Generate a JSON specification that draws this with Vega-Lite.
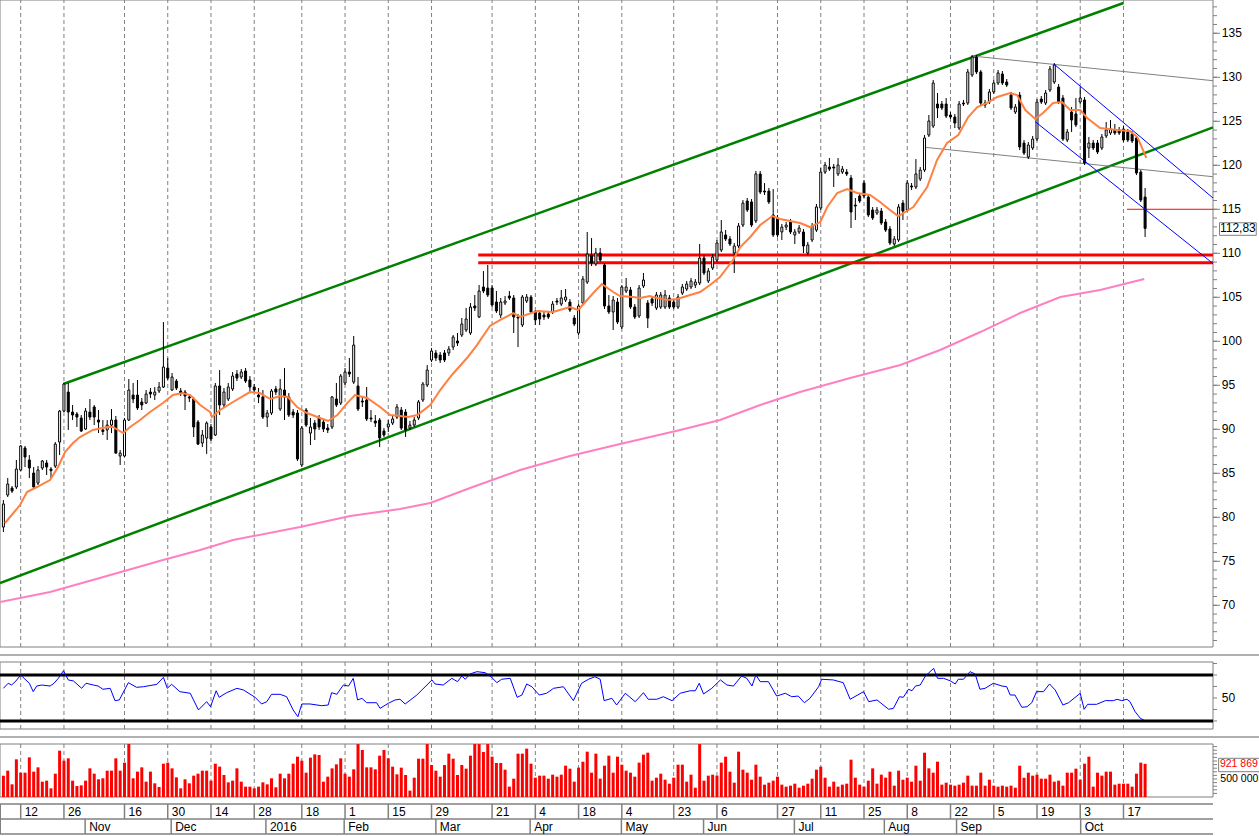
{
"$schema":"https://vega.github.io/schema/vega-lite/v6.json",
"width":1213,"height":836,
"padding":{"left":0,"top":0,"right":46,"bottom":0},
"autosize":{"type":"none"},
"background":"white",
"config":{"view":{"stroke":null},"font":"Liberation Sans","text":{"font":"Liberation Sans"},"scale":{"continuousPadding":0}},
"datasets":{
"grid":[{"i":4,"t":"12"},{"i":14,"t":"26"},{"i":28,"t":"16"},{"i":38,"t":"30"},{"i":48,"t":"14"},{"i":58,"t":"28"},{"i":69,"t":"18"},{"i":79,"t":"1"},{"i":89,"t":"15"},{"i":99,"t":"29"},{"i":113,"t":"21"},{"i":123,"t":"4"},{"i":133,"t":"18"},{"i":143,"t":"4"},{"i":155,"t":"23"},{"i":165,"t":"6"},{"i":179,"t":"27"},{"i":189,"t":"11"},{"i":199,"t":"25"},{"i":209,"t":"8"},{"i":219,"t":"22"},{"i":229,"t":"5"},{"i":239,"t":"19"},{"i":249,"t":"3"},{"i":259,"t":"17"}],
"months":[{"i":18.9,"t":"Nov"},{"i":38.8,"t":"Dec"},{"i":60.7,"t":"2016"},{"i":78.8,"t":"Feb"},{"i":100,"t":"Mar"},{"i":121.8,"t":"Apr"},{"i":142.9,"t":"May"},{"i":161.9,"t":"Jun"},{"i":182.9,"t":"Jul"},{"i":203.7,"t":"Aug"},{"i":220.4,"t":"Sep"},{"i":249.1,"t":"Oct"}],
"mticks":[{"p":66},{"p":67},{"p":68},{"p":69},{"p":70},{"p":71},{"p":72},{"p":73},{"p":74},{"p":75},{"p":76},{"p":77},{"p":78},{"p":79},{"p":80},{"p":81},{"p":82},{"p":83},{"p":84},{"p":85},{"p":86},{"p":87},{"p":88},{"p":89},{"p":90},{"p":91},{"p":92},{"p":93},{"p":94},{"p":95},{"p":96},{"p":97},{"p":98},{"p":99},{"p":100},{"p":101},{"p":102},{"p":103},{"p":104},{"p":105},{"p":106},{"p":107},{"p":108},{"p":109},{"p":110},{"p":111},{"p":112},{"p":113},{"p":114},{"p":115},{"p":116},{"p":117},{"p":118},{"p":119},{"p":120},{"p":121},{"p":122},{"p":123},{"p":124},{"p":125},{"p":126},{"p":127},{"p":128},{"p":129},{"p":130},{"p":131},{"p":132},{"p":133},{"p":134},{"p":135},{"p":136},{"p":137},{"p":138}],
"mlabels":[{"p":70,"t":"70"},{"p":75,"t":"75"},{"p":80,"t":"80"},{"p":85,"t":"85"},{"p":90,"t":"90"},{"p":95,"t":"95"},{"p":100,"t":"100"},{"p":105,"t":"105"},{"p":110,"t":"110"},{"p":115,"t":"115"},{"p":120,"t":"120"},{"p":125,"t":"125"},{"p":130,"t":"130"},{"p":135,"t":"135"}],
"rticks":[{"r":30},{"r":40},{"r":50},{"r":60},{"r":70},{"r":80}],
"vticks":[{"v":100000},{"v":200000},{"v":300000},{"v":400000},{"v":500000},{"v":600000},{"v":700000},{"v":800000},{"v":900000},{"v":1000000},{"v":1100000},{"v":1200000},{"v":1300000},{"v":1400000}],
"segs":[
{"i":13.85,"p":95.14,"i2":259,"p2":138.44,"k":"green"},
{"i":-0.786,"p":72.53,"i2":279.7,"p2":124.3,"k":"green"},
{"i":109.8,"p":109.8,"i2":279.7,"p2":109.8,"k":"redthick"},
{"i":109.8,"p":108.93,"i2":279.7,"p2":108.93,"k":"redthick"},
{"i":259.8,"p":115.0,"i2":279.7,"p2":115.0,"k":"redthin"},
{"i":223.9,"p":132.42,"i2":279.7,"p2":129.61,"k":"grey"},
{"i":213.1,"p":122.04,"i2":279.7,"p2":118.7,"k":"grey"},
{"i":243.0,"p":131.47,"i2":279.7,"p2":116.28,"k":"blue"},
{"i":238.6,"p":124.95,"i2":279.7,"p2":108.84,"k":"blue"}],
"pink":[{"i":-0.79,"p":70.37},{"i":10.8,"p":71.51},{"i":22.3,"p":73.1},{"i":36.9,"p":75.14},{"i":45.5,"p":76.28},{"i":53.1,"p":77.42},{"i":68.6,"p":78.89},{"i":80.2,"p":80.14},{"i":91.7,"p":80.94},{"i":98.7,"p":81.62},{"i":107.9,"p":83.33},{"i":119.5,"p":85.37},{"i":131,"p":86.96},{"i":142.6,"p":88.33},{"i":156.5,"p":89.92},{"i":165.7,"p":91.05},{"i":175,"p":92.76},{"i":184.2,"p":94.23},{"i":195.8,"p":95.83},{"i":207.4,"p":97.3},{"i":216.6,"p":99.01},{"i":225.9,"p":101.05},{"i":235.1,"p":103.21},{"i":244.4,"p":105.03},{"i":253.6,"p":105.83},{"i":263.8,"p":107.07}],
"orange":[{"i":0.37,"p":79.35},{"i":3.84,"p":81.39},{"i":5.46,"p":82.87},{"i":7.77,"p":83.44},{"i":10.78,"p":84.23},{"i":12.63,"p":85.71},{"i":14.25,"p":87.42},{"i":16.1,"p":88.44},{"i":17.7,"p":89.12},{"i":20.7,"p":89.92},{"i":24,"p":90.26},{"i":25.3,"p":90.26},{"i":27.7,"p":89.57},{"i":29.3,"p":90.26},{"i":31.6,"p":91.05},{"i":33.9,"p":91.96},{"i":36.9,"p":92.98},{"i":39.2,"p":93.89},{"i":41.5,"p":94.12},{"i":43.2,"p":93.89},{"i":45.5,"p":92.76},{"i":47.8,"p":91.96},{"i":48.2,"p":91.39},{"i":50.1,"p":92.19},{"i":53.1,"p":93.1},{"i":57,"p":94.23},{"i":59.3,"p":94.12},{"i":61.7,"p":93.44},{"i":64,"p":93.78},{"i":65.8,"p":93.67},{"i":67.9,"p":92.53},{"i":70.2,"p":91.85},{"i":73.2,"p":91.28},{"i":75.1,"p":90.94},{"i":77.2,"p":91.62},{"i":79.5,"p":92.98},{"i":81.3,"p":93.89},{"i":84.1,"p":93.55},{"i":87.1,"p":92.53},{"i":89.4,"p":91.62},{"i":91.7,"p":91.51},{"i":93.6,"p":91.39},{"i":95.7,"p":91.62},{"i":98.7,"p":92.76},{"i":101,"p":94.46},{"i":103.7,"p":96.17},{"i":107.2,"p":98.1},{"i":109.5,"p":99.57},{"i":112.5,"p":101.74},{"i":114.9,"p":102.42},{"i":117.9,"p":103.21},{"i":119.5,"p":102.76},{"i":123.4,"p":103.44},{"i":127.1,"p":103.33},{"i":131,"p":103.89},{"i":132.9,"p":103.55},{"i":136.4,"p":105.49},{"i":138.4,"p":106.51},{"i":141,"p":105.6},{"i":142.6,"p":105.14},{"i":145.6,"p":105.03},{"i":147.2,"p":104.92},{"i":149.5,"p":105.14},{"i":150.2,"p":105.03},{"i":153.5,"p":104.69},{"i":155.8,"p":104.8},{"i":158.8,"p":105.26},{"i":161.1,"p":105.6},{"i":163.4,"p":106.39},{"i":165.7,"p":107.3},{"i":168.7,"p":109.23},{"i":170.4,"p":110.71},{"i":172.7,"p":111.85},{"i":175,"p":113.21},{"i":177.8,"p":114.23},{"i":179.6,"p":113.89},{"i":181.9,"p":113.67},{"i":184.2,"p":113.44},{"i":186.5,"p":112.98},{"i":188.9,"p":113.55},{"i":190.5,"p":115.26},{"i":192.8,"p":116.85},{"i":195.1,"p":117.3},{"i":197.4,"p":116.85},{"i":200.4,"p":116.62},{"i":202.7,"p":115.83},{"i":205,"p":114.92},{"i":206.9,"p":114.23},{"i":207.4,"p":114.35},{"i":210.4,"p":115.26},{"i":213.6,"p":117.53},{"i":215.9,"p":120.6},{"i":218.2,"p":122.53},{"i":220.8,"p":123.44},{"i":223.1,"p":125.48},{"i":225.2,"p":126.62},{"i":227.5,"p":127.08},{"i":229.8,"p":127.76},{"i":232.8,"p":128.21},{"i":234.4,"p":127.98},{"i":236.3,"p":126.28},{"i":238.6,"p":125.26},{"i":240.4,"p":125.94},{"i":242.7,"p":127.08},{"i":244.8,"p":127.19},{"i":246.7,"p":126.28},{"i":249,"p":126.28},{"i":250.6,"p":125.37},{"i":253.6,"p":124.23},{"i":257.5,"p":124.01},{"i":260.5,"p":123.89},{"i":262.2,"p":123.21},{"i":264.3,"p":120.83}],
"rsi":[{"i":0,"r":58.4},{"i":1.1,"r":62.8},{"i":1.9,"r":61.3},{"i":2.9,"r":64.8},{"i":4,"r":70},{"i":5,"r":66.3},{"i":6,"r":62.8},{"i":6.9,"r":55.5},{"i":7.7,"r":60.4},{"i":8.9,"r":61.3},{"i":10.8,"r":60.4},{"i":11.7,"r":62.8},{"i":12.7,"r":67.1},{"i":13.9,"r":73.7},{"i":15,"r":65.7},{"i":16.2,"r":64.8},{"i":18.1,"r":58.4},{"i":19.1,"r":62.8},{"i":20.8,"r":61.3},{"i":21.9,"r":60.4},{"i":23,"r":57.6},{"i":24.7,"r":58.4},{"i":25.8,"r":47.7},{"i":26.8,"r":48.3},{"i":28.9,"r":63.3},{"i":30.8,"r":59.3},{"i":32.4,"r":59.8},{"i":35.5,"r":61.9},{"i":37,"r":68},{"i":37.9,"r":58.4},{"i":38.9,"r":61.9},{"i":40.8,"r":55.5},{"i":43.2,"r":54.1},{"i":45.1,"r":39.6},{"i":47,"r":46.8},{"i":47.9,"r":42.4},{"i":49.2,"r":56.3},{"i":49.9,"r":50.6},{"i":51.6,"r":54.6},{"i":54,"r":58.4},{"i":55.5,"r":57},{"i":58.2,"r":50.6},{"i":59.7,"r":44.8},{"i":60.9,"r":46.8},{"i":62,"r":53.2},{"i":64,"r":53.2},{"i":65.5,"r":51.1},{"i":67,"r":39.6},{"i":68.1,"r":33.7},{"i":69,"r":44.8},{"i":70.9,"r":44.8},{"i":73.6,"r":43.3},{"i":75.1,"r":43.9},{"i":75.9,"r":54.6},{"i":77.1,"r":53.2},{"i":78.6,"r":61.3},{"i":79.8,"r":60.4},{"i":80.9,"r":67.1},{"i":81.9,"r":48.3},{"i":82.9,"r":49.7},{"i":84,"r":45.9},{"i":86.3,"r":45.9},{"i":87.1,"r":41},{"i":89,"r":45.4},{"i":90.6,"r":48.3},{"i":91.7,"r":48.9},{"i":92.9,"r":44.8},{"i":95.6,"r":52.6},{"i":99.1,"r":65.7},{"i":99.8,"r":62.2},{"i":101.7,"r":61.3},{"i":103.7,"r":67.1},{"i":105,"r":64.2},{"i":106,"r":69.1},{"i":106.8,"r":66.3},{"i":107.9,"r":70.9},{"i":109.5,"r":72.9},{"i":111.4,"r":72},{"i":112.9,"r":68},{"i":114.1,"r":63.3},{"i":115.2,"r":66.3},{"i":117.2,"r":67.1},{"i":118.8,"r":50.6},{"i":119.9,"r":52.6},{"i":121,"r":62.2},{"i":122.2,"r":59.8},{"i":123.9,"r":52.6},{"i":125.6,"r":54.1},{"i":127.2,"r":58.4},{"i":129.5,"r":59.8},{"i":131.8,"r":47.7},{"i":133.7,"r":62.8},{"i":135.3,"r":66.3},{"i":136.8,"r":68.5},{"i":138,"r":66.3},{"i":138.9,"r":47.7},{"i":140.7,"r":49.7},{"i":141.8,"r":43.9},{"i":143.8,"r":54.1},{"i":146.1,"r":46.8},{"i":148,"r":54.6},{"i":149.1,"r":48.9},{"i":151.1,"r":48.9},{"i":152.6,"r":51.1},{"i":154.6,"r":47.7},{"i":156.5,"r":54.1},{"i":158.8,"r":56.3},{"i":160,"r":56.3},{"i":160.9,"r":62.8},{"i":161.9,"r":53.5},{"i":163.8,"r":58.4},{"i":165.8,"r":65.7},{"i":167.3,"r":61.3},{"i":168.8,"r":60.4},{"i":170.7,"r":69.1},{"i":171.9,"r":67.1},{"i":173.1,"r":60.4},{"i":174,"r":70},{"i":175,"r":64.2},{"i":176.9,"r":64.2},{"i":178.8,"r":51.7},{"i":180.8,"r":54.1},{"i":182.3,"r":51.1},{"i":183.8,"r":51.7},{"i":185.2,"r":45.9},{"i":186.5,"r":49.7},{"i":188.5,"r":59.8},{"i":189.2,"r":66.3},{"i":191.9,"r":65.7},{"i":194.2,"r":63.3},{"i":195.8,"r":48.9},{"i":198.9,"r":55.5},{"i":200.1,"r":46.8},{"i":202,"r":48.3},{"i":204.7,"r":40.2},{"i":205.8,"r":41},{"i":207.2,"r":51.1},{"i":208.1,"r":50.6},{"i":209.3,"r":57.6},{"i":210.1,"r":56.3},{"i":210.9,"r":60.4},{"i":212,"r":61.3},{"i":213.2,"r":69.1},{"i":215.1,"r":75.8},{"i":216,"r":67.1},{"i":217.4,"r":67.1},{"i":218.9,"r":65},{"i":220.1,"r":62.2},{"i":220.8,"r":66.3},{"i":222,"r":66.3},{"i":223.5,"r":72.9},{"i":224.7,"r":70.9},{"i":225.8,"r":57.6},{"i":227,"r":58.4},{"i":228.9,"r":62.8},{"i":230.9,"r":60.4},{"i":232,"r":59.8},{"i":232.8,"r":52.6},{"i":233.9,"r":52.6},{"i":235.5,"r":41.9},{"i":236.7,"r":42.4},{"i":237.8,"r":45.9},{"i":238.9,"r":55.5},{"i":240.5,"r":55.5},{"i":241.9,"r":62.2},{"i":243.2,"r":57},{"i":245,"r":43.9},{"i":246.3,"r":45.9},{"i":249,"r":54.1},{"i":249.9,"r":40.2},{"i":250.7,"r":44.5},{"i":252.8,"r":44.5},{"i":254.8,"r":47.7},{"i":256.7,"r":47.7},{"i":257.5,"r":48.9},{"i":258.6,"r":47.7},{"i":259.8,"r":48.9},{"i":260.5,"r":46.8},{"i":261.7,"r":38.1},{"i":262.9,"r":32.3},{"i":263.7,"r":30.9}],
"bars":[
{"i":0,"o":78.89,"h":81.96,"l":78.32,"c":81.51,"v":593000},
{"i":1,"o":82.53,"h":84.46,"l":82.3,"c":83.78,"v":731000},
{"i":2,"o":83.32,"h":83.55,"l":82.76,"c":82.98,"v":352000},
{"i":3,"o":83.44,"h":86.51,"l":83.21,"c":85.48,"v":1046000},
{"i":4,"o":85.37,"h":88.21,"l":85.26,"c":88.1,"v":676000},
{"i":5,"o":87.87,"h":88.1,"l":85.71,"c":86.85,"v":676000},
{"i":6,"o":86.51,"h":87.07,"l":84.46,"c":85.6,"v":1102000},
{"i":7,"o":85.03,"h":85.71,"l":83.32,"c":83.44,"v":704000},
{"i":8,"o":83.89,"h":85.82,"l":83.66,"c":85.37,"v":824000},
{"i":9,"o":85.6,"h":86.51,"l":85.37,"c":86.39,"v":426000},
{"i":10,"o":86.17,"h":86.51,"l":84.8,"c":85.71,"v":454000},
{"i":11,"o":85.48,"h":85.71,"l":84.46,"c":85.3,"v":241000},
{"i":12,"o":85.82,"h":88.55,"l":85.6,"c":88.32,"v":648000},
{"i":13,"o":88.55,"h":92.19,"l":87.07,"c":92.07,"v":1287000},
{"i":14,"o":92.07,"h":95.26,"l":91.96,"c":95.14,"v":1009000},
{"i":15,"o":94.23,"h":95.26,"l":89.92,"c":91.96,"v":1074000},
{"i":16,"o":91.96,"h":92.76,"l":91.05,"c":91.62,"v":454000},
{"i":17,"o":91.73,"h":91.96,"l":90.26,"c":91.39,"v":306000},
{"i":18,"o":91.28,"h":91.62,"l":89.69,"c":89.8,"v":324000},
{"i":19,"o":90.03,"h":92.42,"l":89.92,"c":92.07,"v":454000},
{"i":20,"o":91.96,"h":93.44,"l":91.05,"c":91.39,"v":796000},
{"i":21,"o":92.53,"h":92.76,"l":90.48,"c":91.39,"v":648000},
{"i":22,"o":91.05,"h":92.19,"l":89.57,"c":90.82,"v":491000},
{"i":23,"o":89.92,"h":91.05,"l":89.35,"c":89.75,"v":519000},
{"i":24,"o":89.92,"h":91.05,"l":88.78,"c":90.48,"v":731000},
{"i":25,"o":90.48,"h":92.3,"l":89.57,"c":91.05,"v":731000},
{"i":26,"o":91.05,"h":91.51,"l":87.19,"c":87.3,"v":1074000},
{"i":27,"o":86.96,"h":87.64,"l":85.94,"c":87.3,"v":731000},
{"i":28,"o":86.96,"h":91.28,"l":86.85,"c":91.05,"v":954000},
{"i":29,"o":91.05,"h":95.71,"l":90.94,"c":94.46,"v":1470000},
{"i":30,"o":93.89,"h":95.26,"l":92.98,"c":93.44,"v":519000},
{"i":31,"o":93.89,"h":95.6,"l":92.19,"c":92.42,"v":704000},
{"i":32,"o":93.1,"h":93.55,"l":92.19,"c":92.76,"v":824000},
{"i":33,"o":92.98,"h":94.46,"l":92.87,"c":94.01,"v":426000},
{"i":34,"o":94.23,"h":94.69,"l":93.55,"c":94.01,"v":704000},
{"i":35,"o":93.89,"h":94.8,"l":93.33,"c":94.23,"v":380000},
{"i":36,"o":94.35,"h":95.37,"l":94.12,"c":94.8,"v":278000},
{"i":37,"o":94.8,"h":102.19,"l":94.69,"c":97.07,"v":926000},
{"i":38,"o":96.96,"h":98.1,"l":95.6,"c":95.82,"v":954000},
{"i":39,"o":94.46,"h":96.39,"l":94.35,"c":95.94,"v":796000},
{"i":40,"o":95.48,"h":95.71,"l":94.46,"c":94.69,"v":546000},
{"i":41,"o":94.35,"h":94.69,"l":93.78,"c":94.12,"v":241000},
{"i":42,"o":94.23,"h":94.46,"l":92.19,"c":93.78,"v":491000},
{"i":43,"o":93.67,"h":93.89,"l":93.1,"c":93.55,"v":380000},
{"i":44,"o":93.44,"h":93.67,"l":89.12,"c":90.26,"v":593000},
{"i":45,"o":90.82,"h":91.05,"l":88.21,"c":88.32,"v":648000},
{"i":46,"o":88.44,"h":89.92,"l":87.98,"c":89.35,"v":731000},
{"i":47,"o":89.0,"h":90.9,"l":87.2,"c":90.7,"v":731000},
{"i":48,"o":90.26,"h":90.6,"l":88.67,"c":88.89,"v":454000},
{"i":49,"o":89.35,"h":95.26,"l":89.23,"c":94.92,"v":926000},
{"i":50,"o":94.92,"h":96.73,"l":91.62,"c":92.76,"v":843000},
{"i":51,"o":92.76,"h":94.69,"l":92.42,"c":94.23,"v":611000},
{"i":52,"o":93.44,"h":95.26,"l":93.21,"c":94.8,"v":407000},
{"i":53,"o":94.58,"h":96.51,"l":94.35,"c":96.05,"v":454000},
{"i":54,"o":96.28,"h":96.73,"l":95.48,"c":95.82,"v":796000},
{"i":55,"o":95.94,"h":96.85,"l":95.71,"c":96.51,"v":426000},
{"i":56,"o":96.62,"h":96.96,"l":95.26,"c":95.48,"v":287000},
{"i":57,"o":95.6,"h":96.05,"l":94.12,"c":94.8,"v":287000},
{"i":58,"o":94.8,"h":95.14,"l":94.23,"c":94.46,"v":241000},
{"i":59,"o":93.89,"h":94.69,"l":92.98,"c":93.67,"v":287000},
{"i":60,"o":93.67,"h":94.46,"l":91.17,"c":91.39,"v":407000},
{"i":61,"o":91.39,"h":92.19,"l":90.26,"c":91.85,"v":352000},
{"i":62,"o":91.85,"h":94.58,"l":91.62,"c":94.35,"v":519000},
{"i":63,"o":94.58,"h":94.92,"l":93.89,"c":94.23,"v":269000},
{"i":64,"o":92.3,"h":95.71,"l":92.07,"c":94.58,"v":648000},
{"i":65,"o":94.46,"h":96.96,"l":91.05,"c":93.67,"v":519000},
{"i":66,"o":93.67,"h":94.12,"l":91.39,"c":91.62,"v":648000},
{"i":67,"o":91.96,"h":92.3,"l":91.28,"c":91.62,"v":926000},
{"i":68,"o":91.85,"h":92.19,"l":86.39,"c":86.62,"v":1120000},
{"i":69,"o":85.94,"h":90.37,"l":85.71,"c":90.14,"v":1009000},
{"i":70,"o":92.19,"h":92.42,"l":90.26,"c":90.48,"v":676000},
{"i":71,"o":89.57,"h":91.28,"l":88.21,"c":90.26,"v":1093000},
{"i":72,"o":90.71,"h":91.05,"l":88.78,"c":90.03,"v":1185000},
{"i":73,"o":91.28,"h":91.62,"l":89.92,"c":90.26,"v":1167000},
{"i":74,"o":90.82,"h":91.17,"l":89.69,"c":90.03,"v":426000},
{"i":75,"o":90.14,"h":90.6,"l":89.57,"c":89.92,"v":565000},
{"i":76,"o":90.26,"h":93.78,"l":90.03,"c":93.67,"v":796000},
{"i":77,"o":93.44,"h":95.26,"l":92.53,"c":92.76,"v":907000},
{"i":78,"o":92.98,"h":96.28,"l":92.76,"c":96.05,"v":1074000},
{"i":79,"o":95.26,"h":96.96,"l":95.03,"c":96.51,"v":648000},
{"i":80,"o":96.51,"h":98.1,"l":95.94,"c":96.28,"v":565000},
{"i":81,"o":95.37,"h":100.6,"l":95.14,"c":99.57,"v":769000},
{"i":82,"o":94.92,"h":95.94,"l":92.07,"c":92.3,"v":1470000},
{"i":83,"o":93.21,"h":93.67,"l":92.53,"c":93.1,"v":1306000},
{"i":84,"o":93.33,"h":94.8,"l":90.94,"c":91.17,"v":824000},
{"i":85,"o":91.28,"h":92.19,"l":90.82,"c":91.17,"v":824000},
{"i":86,"o":90.94,"h":91.62,"l":90.26,"c":90.71,"v":769000},
{"i":87,"o":91.05,"h":91.28,"l":87.98,"c":89.01,"v":1148000},
{"i":88,"o":89.8,"h":90.14,"l":89.12,"c":89.35,"v":1306000},
{"i":89,"o":90.26,"h":91.05,"l":89.69,"c":90.6,"v":1074000},
{"i":90,"o":90.71,"h":91.51,"l":90.48,"c":91.17,"v":843000},
{"i":91,"o":91.39,"h":92.87,"l":91.17,"c":92.53,"v":630000},
{"i":92,"o":92.19,"h":92.53,"l":89.92,"c":90.14,"v":815000},
{"i":93,"o":91.96,"h":92.3,"l":89.12,"c":89.92,"v":611000},
{"i":94,"o":90.14,"h":90.94,"l":89.92,"c":90.48,"v":176000},
{"i":95,"o":90.48,"h":91.39,"l":90.26,"c":91.05,"v":537000},
{"i":96,"o":91.28,"h":93.33,"l":91.05,"c":93.1,"v":1065000},
{"i":97,"o":93.33,"h":95.37,"l":93.1,"c":95.14,"v":1065000},
{"i":98,"o":95.03,"h":97.3,"l":94.8,"c":96.73,"v":1470000},
{"i":99,"o":97.87,"h":99.23,"l":97.64,"c":98.89,"v":889000},
{"i":100,"o":98.67,"h":99.01,"l":97.76,"c":98.1,"v":731000},
{"i":101,"o":98.44,"h":98.78,"l":97.53,"c":97.87,"v":565000},
{"i":102,"o":98.67,"h":99.01,"l":97.64,"c":97.87,"v":889000},
{"i":103,"o":98.67,"h":99.46,"l":98.33,"c":99.12,"v":1204000},
{"i":104,"o":99.35,"h":100.71,"l":99.01,"c":100.48,"v":1065000},
{"i":105,"o":100.03,"h":100.94,"l":99.46,"c":99.8,"v":611000},
{"i":106,"o":100.71,"h":102.64,"l":100.48,"c":101.96,"v":889000},
{"i":107,"o":101.28,"h":103.78,"l":101.05,"c":102.53,"v":787000},
{"i":108,"o":100.94,"h":104.35,"l":100.71,"c":103.89,"v":1148000},
{"i":109,"o":104.01,"h":105.26,"l":103.44,"c":103.78,"v":1470000},
{"i":110,"o":102.76,"h":106.39,"l":102.64,"c":105.71,"v":1470000},
{"i":111,"o":106.17,"h":107.98,"l":105.48,"c":105.71,"v":1250000},
{"i":112,"o":106.05,"h":108.67,"l":105.03,"c":105.26,"v":1470000},
{"i":113,"o":106.05,"h":106.39,"l":103.89,"c":104.12,"v":1120000},
{"i":114,"o":104.46,"h":105.71,"l":103.21,"c":103.44,"v":944000},
{"i":115,"o":102.98,"h":104.92,"l":102.64,"c":104.46,"v":944000},
{"i":116,"o":104.35,"h":105.14,"l":104.12,"c":104.58,"v":759000},
{"i":117,"o":105.14,"h":105.71,"l":104.69,"c":104.92,"v":287000},
{"i":118,"o":104.92,"h":105.26,"l":100.94,"c":102.76,"v":509000},
{"i":119,"o":102.76,"h":103.1,"l":99.35,"c":102.64,"v":1204000},
{"i":120,"o":101.85,"h":105.26,"l":101.62,"c":105.03,"v":1204000},
{"i":121,"o":104.58,"h":105.37,"l":104.35,"c":105.03,"v":1343000},
{"i":122,"o":105.03,"h":105.26,"l":103.1,"c":103.33,"v":926000},
{"i":123,"o":103.33,"h":103.55,"l":101.85,"c":102.42,"v":537000},
{"i":124,"o":103.21,"h":103.55,"l":101.85,"c":102.53,"v":593000},
{"i":125,"o":102.98,"h":103.44,"l":102.42,"c":102.76,"v":593000},
{"i":126,"o":103.1,"h":103.44,"l":102.53,"c":102.76,"v":509000},
{"i":127,"o":103.33,"h":104.58,"l":103.1,"c":104.23,"v":620000},
{"i":128,"o":104.58,"h":104.92,"l":104.12,"c":104.46,"v":565000},
{"i":129,"o":104.23,"h":105.83,"l":104.01,"c":104.92,"v":620000},
{"i":130,"o":104.69,"h":105.94,"l":104.46,"c":105.03,"v":870000},
{"i":131,"o":104.46,"h":104.8,"l":103.33,"c":103.55,"v":787000},
{"i":132,"o":102.64,"h":102.98,"l":101.73,"c":101.96,"v":426000},
{"i":133,"o":100.94,"h":104.23,"l":100.71,"c":104.01,"v":815000},
{"i":134,"o":104.35,"h":107.42,"l":104.12,"c":107.07,"v":981000},
{"i":135,"o":106.73,"h":112.42,"l":106.51,"c":109.92,"v":1259000},
{"i":136,"o":109.8,"h":111.73,"l":108.55,"c":108.89,"v":676000},
{"i":137,"o":108.78,"h":110.6,"l":108.55,"c":110.03,"v":1204000},
{"i":138,"o":110.03,"h":110.6,"l":109.01,"c":109.23,"v":509000},
{"i":139,"o":108.67,"h":108.89,"l":103.67,"c":104.01,"v":870000},
{"i":140,"o":104.01,"h":105.26,"l":103.1,"c":103.33,"v":1148000},
{"i":141,"o":103.33,"h":105.14,"l":101.28,"c":104.69,"v":676000},
{"i":142,"o":104.46,"h":104.92,"l":101.96,"c":102.19,"v":1120000},
{"i":143,"o":101.62,"h":106.39,"l":101.39,"c":106.17,"v":898000},
{"i":144,"o":105.71,"h":107.19,"l":105.48,"c":106.17,"v":731000},
{"i":145,"o":105.83,"h":106.17,"l":103.67,"c":103.89,"v":676000},
{"i":146,"o":103.89,"h":104.23,"l":102.53,"c":102.76,"v":565000},
{"i":147,"o":102.87,"h":106.39,"l":102.64,"c":106.05,"v":954000},
{"i":148,"o":106.28,"h":107.76,"l":106.05,"c":106.96,"v":1176000},
{"i":149,"o":104.35,"h":104.69,"l":101.51,"c":102.64,"v":1231000},
{"i":150,"o":104.8,"h":105.14,"l":104.01,"c":104.35,"v":454000},
{"i":151,"o":103.78,"h":105.6,"l":103.55,"c":105.26,"v":537000},
{"i":152,"o":103.89,"h":105.6,"l":103.67,"c":105.26,"v":648000},
{"i":153,"o":103.89,"h":105.83,"l":103.67,"c":105.26,"v":481000},
{"i":154,"o":104.92,"h":105.26,"l":103.67,"c":103.89,"v":370000},
{"i":155,"o":104.46,"h":104.8,"l":103.67,"c":103.89,"v":537000},
{"i":156,"o":103.89,"h":105.37,"l":103.67,"c":105.03,"v":898000},
{"i":157,"o":105.48,"h":106.51,"l":105.26,"c":106.17,"v":898000},
{"i":158,"o":105.94,"h":106.85,"l":105.71,"c":106.51,"v":426000},
{"i":159,"o":106.17,"h":107.19,"l":105.94,"c":106.85,"v":620000},
{"i":160,"o":106.39,"h":107.07,"l":106.05,"c":106.73,"v":259000},
{"i":161,"o":106.62,"h":111.05,"l":106.39,"c":109.46,"v":1470000},
{"i":162,"o":109.46,"h":109.8,"l":107.53,"c":107.76,"v":454000},
{"i":163,"o":106.85,"h":108.33,"l":106.62,"c":107.98,"v":593000},
{"i":164,"o":108.33,"h":109.92,"l":108.1,"c":109.57,"v":620000},
{"i":165,"o":109.23,"h":111.51,"l":109.01,"c":111.17,"v":593000},
{"i":166,"o":110.37,"h":113.78,"l":110.14,"c":112.42,"v":954000},
{"i":167,"o":112.08,"h":112.64,"l":111.39,"c":111.62,"v":1120000},
{"i":168,"o":111.62,"h":111.96,"l":110.82,"c":111.05,"v":704000},
{"i":169,"o":110.03,"h":111.17,"l":107.76,"c":110.82,"v":398000},
{"i":170,"o":110.82,"h":113.44,"l":110.6,"c":113.1,"v":1259000},
{"i":171,"o":113.21,"h":116.05,"l":112.98,"c":115.71,"v":759000},
{"i":172,"o":115.94,"h":116.28,"l":114.69,"c":114.92,"v":676000},
{"i":173,"o":115.83,"h":116.17,"l":112.98,"c":113.21,"v":481000},
{"i":174,"o":113.67,"h":119.35,"l":113.44,"c":119.01,"v":898000},
{"i":175,"o":119.01,"h":119.35,"l":116.73,"c":116.96,"v":565000},
{"i":176,"o":117.07,"h":117.98,"l":116.62,"c":116.96,"v":343000},
{"i":177,"o":117.07,"h":117.42,"l":115.6,"c":115.83,"v":398000},
{"i":178,"o":114.35,"h":117.3,"l":111.85,"c":112.08,"v":454000},
{"i":179,"o":114.01,"h":114.35,"l":111.85,"c":112.08,"v":565000},
{"i":180,"o":112.42,"h":113.33,"l":111.51,"c":112.98,"v":343000},
{"i":181,"o":112.98,"h":113.55,"l":112.64,"c":113.21,"v":287000},
{"i":182,"o":113.55,"h":113.89,"l":112.19,"c":112.42,"v":315000},
{"i":183,"o":112.08,"h":112.76,"l":111.05,"c":112.42,"v":370000},
{"i":184,"o":112.42,"h":113.21,"l":112.19,"c":112.87,"v":259000},
{"i":185,"o":112.42,"h":112.76,"l":110.03,"c":110.82,"v":315000},
{"i":186,"o":110.03,"h":111.28,"l":109.8,"c":110.94,"v":370000},
{"i":187,"o":111.51,"h":113.44,"l":111.28,"c":113.1,"v":509000},
{"i":188,"o":112.64,"h":115.6,"l":112.42,"c":115.26,"v":759000},
{"i":189,"o":115.14,"h":119.69,"l":114.92,"c":119.23,"v":843000},
{"i":190,"o":119.23,"h":120.37,"l":119.01,"c":120.03,"v":537000},
{"i":191,"o":119.8,"h":120.82,"l":119.35,"c":119.57,"v":287000},
{"i":192,"o":119.8,"h":120.14,"l":117.53,"c":119.69,"v":426000},
{"i":193,"o":119.01,"h":120.82,"l":118.78,"c":120.03,"v":287000},
{"i":194,"o":119.23,"h":119.92,"l":119.01,"c":119.57,"v":343000},
{"i":195,"o":119.23,"h":119.57,"l":118.78,"c":119.01,"v":370000},
{"i":196,"o":118.55,"h":118.89,"l":112.87,"c":114.69,"v":1037000},
{"i":197,"o":115.48,"h":116.28,"l":113.78,"c":115.37,"v":537000},
{"i":198,"o":116.51,"h":116.85,"l":115.71,"c":115.94,"v":343000},
{"i":199,"o":117.98,"h":118.33,"l":116.28,"c":116.51,"v":287000},
{"i":200,"o":116.39,"h":116.73,"l":114.12,"c":114.35,"v":454000},
{"i":201,"o":114.92,"h":115.26,"l":113.78,"c":114.01,"v":796000},
{"i":202,"o":114.58,"h":115.26,"l":114.35,"c":114.92,"v":370000},
{"i":203,"o":114.8,"h":115.14,"l":113.21,"c":113.44,"v":620000},
{"i":204,"o":113.55,"h":113.89,"l":112.42,"c":112.64,"v":537000},
{"i":205,"o":112.76,"h":113.1,"l":110.94,"c":111.17,"v":704000},
{"i":206,"o":111.05,"h":111.96,"l":110.82,"c":111.62,"v":315000},
{"i":207,"o":111.51,"h":115.6,"l":111.28,"c":115.26,"v":731000},
{"i":208,"o":115.71,"h":116.05,"l":113.78,"c":114.8,"v":481000},
{"i":209,"o":114.92,"h":118.33,"l":114.69,"c":117.98,"v":537000},
{"i":210,"o":117.64,"h":117.98,"l":117.19,"c":117.53,"v":426000},
{"i":211,"o":117.53,"h":120.71,"l":117.3,"c":119.01,"v":870000},
{"i":212,"o":118.44,"h":119.8,"l":118.21,"c":119.46,"v":454000},
{"i":213,"o":119.46,"h":123.44,"l":119.23,"c":123.1,"v":1231000},
{"i":214,"o":123.44,"h":125.71,"l":123.21,"c":125.03,"v":796000},
{"i":215,"o":124.46,"h":129.69,"l":124.23,"c":129.35,"v":676000},
{"i":216,"o":126.96,"h":128.21,"l":125.37,"c":126.51,"v":981000},
{"i":217,"o":126.96,"h":127.3,"l":126.28,"c":126.51,"v":343000},
{"i":218,"o":126.96,"h":127.64,"l":125.37,"c":125.6,"v":398000},
{"i":219,"o":125.71,"h":126.05,"l":125.26,"c":125.48,"v":343000},
{"i":220,"o":125.48,"h":125.83,"l":124.23,"c":124.8,"v":315000},
{"i":221,"o":124.23,"h":127.3,"l":124.01,"c":126.96,"v":343000},
{"i":222,"o":127.07,"h":127.42,"l":126.73,"c":126.96,"v":398000},
{"i":223,"o":127.07,"h":130.94,"l":126.85,"c":130.6,"v":593000},
{"i":224,"o":130.26,"h":132.53,"l":130.03,"c":132.3,"v":315000},
{"i":225,"o":132.3,"h":132.53,"l":130.37,"c":130.6,"v":315000},
{"i":226,"o":130.6,"h":130.83,"l":126.85,"c":127.07,"v":676000},
{"i":227,"o":127.07,"h":127.42,"l":126.51,"c":126.85,"v":315000},
{"i":228,"o":127.19,"h":128.67,"l":126.96,"c":128.33,"v":481000},
{"i":229,"o":128.33,"h":129.69,"l":128.1,"c":129.35,"v":315000},
{"i":230,"o":129.35,"h":130.83,"l":129.12,"c":130.49,"v":287000},
{"i":231,"o":130.37,"h":130.71,"l":129.12,"c":129.35,"v":315000},
{"i":232,"o":129.46,"h":129.8,"l":128.89,"c":129.12,"v":287000},
{"i":233,"o":127.98,"h":128.33,"l":126.28,"c":126.51,"v":315000},
{"i":234,"o":126.05,"h":126.96,"l":125.83,"c":126.62,"v":259000},
{"i":235,"o":127.98,"h":128.33,"l":121.73,"c":122.08,"v":870000},
{"i":236,"o":122.53,"h":122.87,"l":121.17,"c":121.39,"v":537000},
{"i":237,"o":120.94,"h":122.64,"l":120.71,"c":122.3,"v":676000},
{"i":238,"o":121.96,"h":123.33,"l":121.73,"c":122.98,"v":593000},
{"i":239,"o":122.98,"h":127.53,"l":122.76,"c":127.19,"v":620000},
{"i":240,"o":127.53,"h":127.87,"l":126.96,"c":127.19,"v":509000},
{"i":241,"o":127.07,"h":128.55,"l":126.85,"c":128.21,"v":509000},
{"i":242,"o":128.55,"h":131.28,"l":128.33,"c":130.94,"v":620000},
{"i":243,"o":129.46,"h":131.62,"l":129.23,"c":131.39,"v":426000},
{"i":244,"o":128.89,"h":129.23,"l":126.96,"c":127.19,"v":454000},
{"i":245,"o":127.64,"h":127.98,"l":122.76,"c":122.98,"v":315000},
{"i":246,"o":122.87,"h":124.12,"l":122.64,"c":123.78,"v":676000},
{"i":247,"o":126.05,"h":126.62,"l":123.78,"c":125.14,"v":676000},
{"i":248,"o":125.83,"h":127.64,"l":124.35,"c":124.58,"v":787000},
{"i":249,"o":127.19,"h":128.89,"l":126.96,"c":127.64,"v":481000},
{"i":250,"o":127.42,"h":127.76,"l":120.03,"c":120.26,"v":926000},
{"i":251,"o":121.96,"h":123.21,"l":120.82,"c":122.53,"v":1120000},
{"i":252,"o":122.53,"h":122.87,"l":121.73,"c":121.96,"v":287000},
{"i":253,"o":122.53,"h":122.87,"l":121.28,"c":121.51,"v":676000},
{"i":254,"o":121.96,"h":123.55,"l":121.73,"c":123.21,"v":593000},
{"i":255,"o":123.33,"h":124.92,"l":123.1,"c":124.01,"v":704000},
{"i":256,"o":123.67,"h":125.14,"l":123.44,"c":124.12,"v":704000},
{"i":257,"o":124.01,"h":124.69,"l":123.44,"c":123.67,"v":343000},
{"i":258,"o":124.01,"h":124.35,"l":123.44,"c":123.67,"v":370000},
{"i":259,"o":124.12,"h":124.46,"l":122.64,"c":122.87,"v":370000},
{"i":260,"o":123.78,"h":124.12,"l":122.64,"c":122.87,"v":370000},
{"i":261,"o":123.55,"h":123.89,"l":122.53,"c":122.76,"v":287000},
{"i":262,"o":123.1,"h":123.33,"l":118.89,"c":119.12,"v":648000},
{"i":263,"o":119.23,"h":119.46,"l":115.83,"c":116.05,"v":954000},
{"i":264,"o":116.39,"h":117.42,"l":111.85,"c":112.83,"v":921869}]
},
"layer":[
{
"layer":[
{"data":{"name":"grid"},"mark":{"type":"rule","stroke":"#808080","strokeWidth":1,"strokeDash":[4,3]},
 "encoding":{"x":{"field":"i","type":"quantitative","scale":{"domain":[-0.786,279.7],"nice":false,"zero":false,"padding":0},"axis":null},
 "y":{"datum":65.26,"type":"quantitative","scale":{"domain":[65.26,138.78],"range":[647,0],"nice":false,"zero":false,"padding":0},"axis":null},"y2":{"datum":138.78}}},
{"data":{"values":[{}]},"mark":{"type":"rect","fill":"transparent","stroke":"#808080","strokeWidth":1},
 "encoding":{"x":{"datum":-0.786,"type":"quantitative"},"x2":{"datum":279.7},"y":{"datum":65.26,"type":"quantitative","axis":null},"y2":{"datum":138.78}}},
{"data":{"name":"mticks"},"mark":{"type":"rule","stroke":"#808080","strokeWidth":1},
 "encoding":{"x":{"datum":279.7,"type":"quantitative"},"x2":{"datum":280.63},"y":{"field":"p","type":"quantitative","axis":null}}},
{"data":{"name":"mlabels"},"mark":{"type":"rule","stroke":"#808080","strokeWidth":1},
 "encoding":{"x":{"datum":279.7,"type":"quantitative"},"x2":{"datum":281.32},"y":{"field":"p","type":"quantitative","axis":null}}},
{"data":{"name":"mlabels"},"mark":{"type":"text","align":"left","baseline":"middle","fontSize":12,"color":"black","font":"Liberation Sans"},
 "encoding":{"x":{"datum":281.75,"type":"quantitative"},"y":{"field":"p","type":"quantitative","axis":null},"text":{"field":"t"}}},
{"data":{"name":"pink"},"mark":{"type":"line","stroke":"#ff80c0","strokeWidth":2},
 "encoding":{"x":{"field":"i","type":"quantitative"},"y":{"field":"p","type":"quantitative","axis":null}}},
{"data":{"name":"segs"},"transform":[{"filter":"datum.k=='green'"}],"mark":{"type":"rule","stroke":"#008000","strokeWidth":2.5},
 "encoding":{"x":{"field":"i","type":"quantitative"},"x2":{"field":"i2"},"y":{"field":"p","type":"quantitative","axis":null},"y2":{"field":"p2"}}},
{"data":{"name":"segs"},"transform":[{"filter":"datum.k=='grey'"}],"mark":{"type":"rule","stroke":"#808080","strokeWidth":1},
 "encoding":{"x":{"field":"i","type":"quantitative"},"x2":{"field":"i2"},"y":{"field":"p","type":"quantitative","axis":null},"y2":{"field":"p2"}}},
{"data":{"name":"segs"},"transform":[{"filter":"datum.k=='redthick'"}],"mark":{"type":"rule","stroke":"#ff0000","strokeWidth":3},
 "encoding":{"x":{"field":"i","type":"quantitative"},"x2":{"field":"i2"},"y":{"field":"p","type":"quantitative","axis":null},"y2":{"field":"p2"}}},
{"data":{"name":"segs"},"transform":[{"filter":"datum.k=='redthin'"}],"mark":{"type":"rule","stroke":"#ff0000","strokeWidth":1},
 "encoding":{"x":{"field":"i","type":"quantitative"},"x2":{"field":"i2"},"y":{"field":"p","type":"quantitative","axis":null},"y2":{"field":"p2"}}},
{"data":{"name":"bars"},"mark":{"type":"rule","stroke":"black","strokeWidth":1},
 "encoding":{"x":{"field":"i","type":"quantitative"},"y":{"field":"l","type":"quantitative","axis":null},"y2":{"field":"h"}}},
{"data":{"name":"bars"},"mark":{"type":"bar","size":2,"stroke":"black","strokeWidth":1},
 "encoding":{"x":{"field":"i","type":"quantitative"},"y":{"field":"o","type":"quantitative","axis":null},"y2":{"field":"c"},
 "fill":{"condition":{"test":"datum.c >= datum.o","value":"white"},"value":"black"}}},
{"data":{"name":"segs"},"transform":[{"filter":"datum.k=='blue'"}],"mark":{"type":"rule","stroke":"#0000ff","strokeWidth":1},
 "encoding":{"x":{"field":"i","type":"quantitative"},"x2":{"field":"i2"},"y":{"field":"p","type":"quantitative","axis":null},"y2":{"field":"p2"}}},
{"data":{"name":"orange"},"mark":{"type":"line","stroke":"#ff8040","strokeWidth":2},
 "encoding":{"x":{"field":"i","type":"quantitative"},"y":{"field":"p","type":"quantitative","axis":null}}},
{"data":{"values":[{"i":281.2,"i2":289.7,"p":113.47,"p2":112.04}]},"mark":{"type":"rect","fill":"white","stroke":"#808080","strokeWidth":1},
 "encoding":{"x":{"field":"i","type":"quantitative"},"x2":{"field":"i2"},"y":{"field":"p","type":"quantitative","axis":null},"y2":{"field":"p2"}}},
{"data":{"values":[{"i":285.45,"p":112.83,"t":"112,83"}]},"mark":{"type":"text","align":"center","baseline":"middle","fontSize":12,"color":"black","font":"Liberation Sans"},
 "encoding":{"x":{"field":"i","type":"quantitative"},"y":{"field":"p","type":"quantitative","axis":null},"text":{"field":"t"}}}
]
},
{
"layer":[
{"data":{"values":[{"r":87.39},{"r":16.09}]},"mark":{"type":"rule","stroke":"#b0b0b0","strokeWidth":2},
 "encoding":{"x":{"datum":-0.786,"type":"quantitative"},"x2":{"datum":290.4},"y":{"field":"r","type":"quantitative","scale":{"domain":[23.04,81.3],"range":[729,662],"nice":false,"zero":false,"padding":0},"axis":null}}},
{"data":{"name":"grid"},"mark":{"type":"rule","stroke":"#808080","strokeWidth":1,"strokeDash":[4,3]},
 "encoding":{"x":{"field":"i","type":"quantitative"},"y":{"datum":23.04,"type":"quantitative","axis":null},"y2":{"datum":81.3}}},
{"data":{"values":[{}]},"mark":{"type":"rect","fill":"transparent","stroke":"#808080","strokeWidth":1},
 "encoding":{"x":{"datum":-0.786,"type":"quantitative"},"x2":{"datum":279.7},"y":{"datum":23.04,"type":"quantitative","axis":null},"y2":{"datum":81.3}}},
{"data":{"name":"rticks"},"mark":{"type":"rule","stroke":"#808080","strokeWidth":1},
 "encoding":{"x":{"datum":279.7,"type":"quantitative"},"x2":{"datum":280.63},"y":{"field":"r","type":"quantitative","axis":null}}},
{"data":{"values":[{"r":50,"t":"50"}]},"mark":{"type":"text","align":"left","baseline":"middle","fontSize":12,"color":"black","font":"Liberation Sans"},
 "encoding":{"x":{"datum":281.75,"type":"quantitative"},"y":{"field":"r","type":"quantitative","axis":null},"text":{"field":"t"}}},
{"data":{"values":[{"r":70},{"r":30}]},"mark":{"type":"rule","stroke":"black","strokeWidth":3},
 "encoding":{"x":{"datum":-0.786,"type":"quantitative"},"x2":{"datum":279.7},"y":{"field":"r","type":"quantitative","axis":null}}},
{"data":{"name":"rsi"},"mark":{"type":"line","stroke":"#0000ff","strokeWidth":1},
 "encoding":{"x":{"field":"i","type":"quantitative"},"y":{"field":"r","type":"quantitative","axis":null}}}
]
},
{
"layer":[
{"data":{"name":"grid"},"mark":{"type":"rule","stroke":"#808080","strokeWidth":1,"strokeDash":[4,3]},
 "encoding":{"x":{"field":"i","type":"quantitative"},"y":{"datum":0,"type":"quantitative","scale":{"domain":[0,1472222],"range":[797,744],"nice":false,"zero":false,"padding":0},"axis":null},"y2":{"datum":1472222}}},
{"data":{"values":[{}]},"mark":{"type":"rect","fill":"transparent","stroke":"#808080","strokeWidth":1},
 "encoding":{"x":{"datum":-0.786,"type":"quantitative"},"x2":{"datum":279.7},"y":{"datum":0,"type":"quantitative","axis":null},"y2":{"datum":1472222}}},
{"data":{"name":"vticks"},"mark":{"type":"rule","stroke":"#808080","strokeWidth":1},
 "encoding":{"x":{"datum":279.7,"type":"quantitative"},"x2":{"datum":280.63},"y":{"field":"v","type":"quantitative","axis":null}}},
{"data":{"values":[{"v":500000,"t":"500 000"}]},"mark":{"type":"text","align":"left","baseline":"middle","fontSize":10.5,"color":"black","font":"Liberation Sans"},
 "encoding":{"x":{"datum":281.4,"type":"quantitative"},"y":{"field":"v","type":"quantitative","axis":null},"text":{"field":"t"}}},
{"data":{"name":"bars"},"mark":{"type":"bar","size":3,"fill":"#ff0000"},
 "encoding":{"x":{"field":"i","type":"quantitative"},"y":{"field":"v","type":"quantitative","axis":null}}},
{"data":{"values":[{"i":281.0,"i2":292,"v":1075000,"v2":703000}]},"mark":{"type":"rect","fill":"white","stroke":"#808080","strokeWidth":1},
 "encoding":{"x":{"field":"i","type":"quantitative"},"x2":{"field":"i2"},"y":{"field":"v","type":"quantitative","axis":null},"y2":{"field":"v2"}}},
{"data":{"values":[{"i":281.3,"v":921869,"t":"921 869"}]},"mark":{"type":"text","align":"left","baseline":"middle","fontSize":10.5,"color":"#ff0000","font":"Liberation Sans"},
 "encoding":{"x":{"field":"i","type":"quantitative"},"y":{"field":"v","type":"quantitative","axis":null},"text":{"field":"t"}}}
]
},
{
"layer":[
{"data":{"values":[{"r":0},{"r":1},{"r":2}]},"mark":{"type":"rule","stroke":"#808080","strokeWidth":1.5},
 "encoding":{"x":{"datum":-0.786,"type":"quantitative"},"x2":{"datum":279.7},"y":{"field":"r","type":"quantitative","scale":{"domain":[0,2],"range":[834,804],"nice":false,"zero":false,"padding":0},"axis":null}}},
{"data":{"name":"grid"},"mark":{"type":"rule","stroke":"#808080","strokeWidth":1.5},
 "encoding":{"x":{"field":"i","type":"quantitative"},"y":{"datum":1,"type":"quantitative","axis":null},"y2":{"datum":2}}},
{"data":{"name":"months"},"mark":{"type":"rule","stroke":"#808080","strokeWidth":1.5},
 "encoding":{"x":{"field":"i","type":"quantitative"},"y":{"datum":0,"type":"quantitative","axis":null},"y2":{"datum":1}}},
{"data":{"values":[{}]},"mark":{"type":"rule","stroke":"#808080","strokeWidth":2},
 "encoding":{"x":{"datum":-0.786,"type":"quantitative"},"y":{"datum":0,"type":"quantitative","axis":null},"y2":{"datum":2}}},
{"data":{"name":"grid"},"mark":{"type":"text","align":"left","baseline":"middle","dx":4,"fontSize":12,"color":"black","font":"Liberation Sans"},
 "encoding":{"x":{"field":"i","type":"quantitative"},"y":{"datum":1.5,"type":"quantitative","axis":null},"text":{"field":"t"}}},
{"data":{"name":"months"},"mark":{"type":"text","align":"left","baseline":"middle","dx":4,"fontSize":12,"color":"black","font":"Liberation Sans"},
 "encoding":{"x":{"field":"i","type":"quantitative"},"y":{"datum":0.5,"type":"quantitative","axis":null},"text":{"field":"t"}}}
]
}
],
"resolve":{"scale":{"y":"independent"}}
}
